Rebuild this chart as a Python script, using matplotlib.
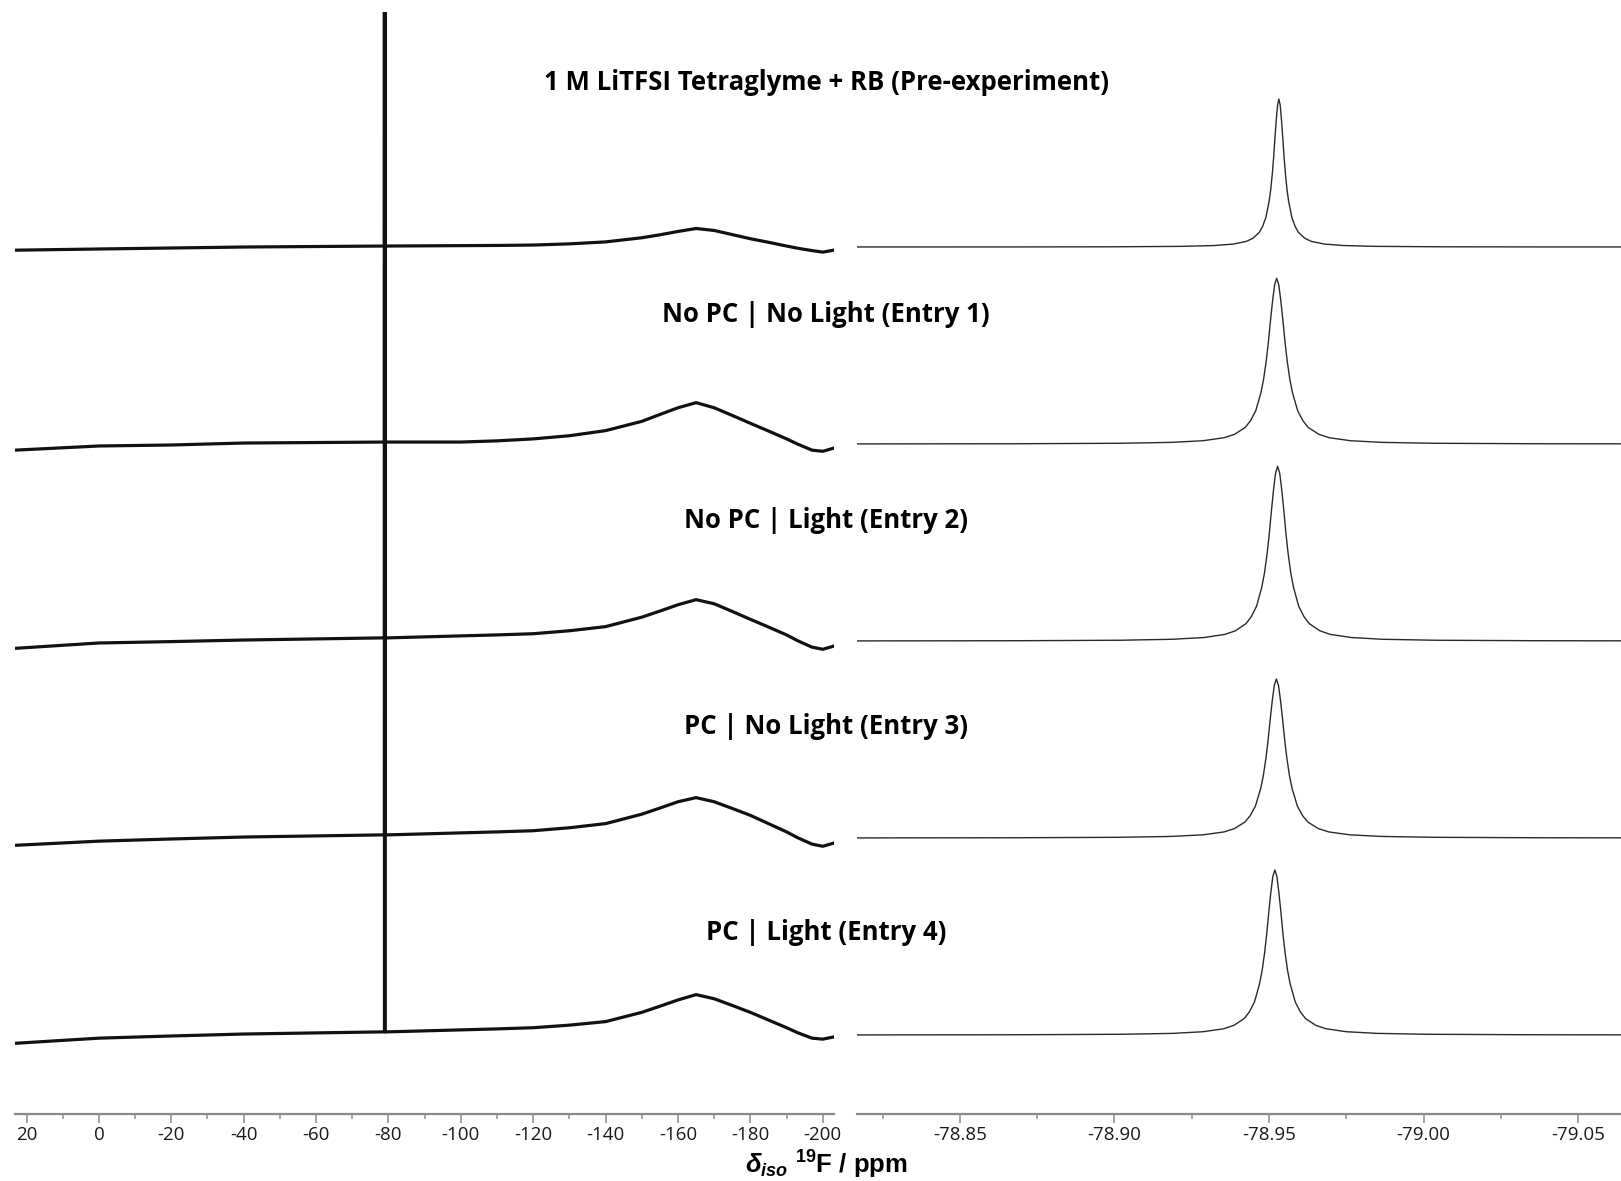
import numpy as np
import matplotlib
matplotlib.use("Agg")
import matplotlib.pyplot as plt
from matplotlib.ticker import MultipleLocator, FormatStrFormatter

plt.rcParams["axes.unicode_minus"] = False
plt.rcParams["mathtext.fontset"] = "custom"
plt.rcParams["mathtext.rm"] = "Liberation Sans:bold"
plt.rcParams["mathtext.bf"] = "Liberation Sans:bold"
plt.rcParams["mathtext.it"] = "Liberation Sans:italic:bold"
plt.rcParams["mathtext.bfit"] = "Liberation Sans:italic:bold"

# ── data ─────────────────────────────────────────────────────────────────
labels = [
    "1 M LiTFSI Tetraglyme + RB (Pre-experiment)",
    "No PC | No Light (Entry 1)",
    "No PC | Light (Entry 2)",
    "PC | No Light (Entry 3)",
    "PC | Light (Entry 4)",
]

# full range spectra (ppm), intensities relative to each trace's baseline
left_ppm = [23, 0, -20, -40, -78.9, -79.0, -79.1, -80, -100, -110, -120, -130,
            -140, -150, -155, -160, -165, -170, -175, -180, -185, -190, -193,
            -197, -200, -203]
left_pre = [-0.016, -0.010, -0.005, 0.000, 0.005, 30.0, 0.005, 0.005, 0.007, 0.008, 0.010, 0.016,
            0.026, 0.047, 0.062, 0.079, 0.094, 0.084, 0.063, 0.042, 0.024, 0.005, -0.006,
            -0.018, -0.026, -0.016]
left_e1 = [-0.031, -0.010, -0.005, 0.005, 0.010, 30.0, 0.010, 0.010, 0.010, 0.016, 0.026, 0.042,
           0.068, 0.115, 0.150, 0.184, 0.210, 0.184, 0.145, 0.105, 0.066, 0.026, 0.000,
           -0.031, -0.037, -0.021]
left_e2 = [-0.037, -0.010, -0.003, 0.005, 0.016, 30.0, 0.016, 0.016, 0.026, 0.031, 0.037, 0.052,
           0.073, 0.121, 0.152, 0.184, 0.210, 0.189, 0.150, 0.110, 0.071, 0.031, 0.002,
           -0.031, -0.042, -0.026]
left_e3 = [-0.037, -0.016, -0.005, 0.005, 0.016, 30.0, 0.016, 0.016, 0.026, 0.031, 0.037, 0.052,
           0.073, 0.121, 0.152, 0.184, 0.205, 0.184, 0.150, 0.115, 0.073, 0.031, 0.002,
           -0.031, -0.042, -0.026]
left_e4 = [-0.042, -0.016, -0.005, 0.005, 0.016, 30.0, 0.016, 0.016, 0.026, 0.031, 0.037, 0.050,
           0.068, 0.115, 0.146, 0.178, 0.205, 0.184, 0.150, 0.115, 0.076, 0.037, 0.012,
           -0.016, -0.021, -0.010]
left_traces = [left_pre, left_e1, left_e2, left_e3, left_e4]

# zoomed CF3 signal
peak_center = [-78.9532, -78.9525, -78.9528, -78.9524, -78.9519]
peak_height = [0.751, 0.841, 0.887, 0.807, 0.838]
peak_hwhm   = [0.0021, 0.0034, 0.0034, 0.0034, 0.0033]

# lineshape: offset in half-widths -> relative height
profile_offset = [0, 0.2, 0.4, 0.6, 0.8, 1.0, 1.25, 1.5, 2, 2.5, 3, 4, 5, 7,
                  10, 15, 25, 40, 80]
profile_height = [1.0, 0.96, 0.86, 0.74, 0.61, 0.50, 0.39, 0.31, 0.20, 0.14,
                  0.10, 0.059, 0.038, 0.020, 0.0099, 0.0044, 0.0016, 0.0006, 0.0002]

offsets = [4, 3, 2, 1, 0]
label_y_px = [83, 315, 521, 727, 932]

# ── figure ───────────────────────────────────────────────────────────────
W, H = 1621, 1181
fig = plt.figure(figsize=(W / 100, H / 100), dpi=100)
ax_l = fig.add_axes([15.3 / W, 1 - 1114 / H, (834 - 15.3) / W, (1114 - 12) / H])
ax_r = fig.add_axes([857 / W, 1 - 1114 / H, (1621 - 857) / W, (1114 - 12) / H])

ylim = (-0.401, 5.193)
po = np.array(profile_offset)
ph = np.array(profile_height)

for off, tr in zip(offsets, left_traces):
    ax_l.plot(left_ppm, np.array(tr) + off, color="#111111", lw=2.3)

for off, c, h, w in zip(offsets, peak_center, peak_height, peak_hwhm):
    x = np.concatenate([c + po[::-1] * w, c - po[1:] * w])
    y = np.concatenate([ph[::-1], ph[1:]]) * h + off
    ax_r.plot(x, y, color="#2a2a2a", lw=1.0)

ax_l.set_xlim(23.1, -203.1)
ax_r.set_xlim(-78.8167, -79.0639)
ax_l.xaxis.set_major_locator(MultipleLocator(20))
ax_l.xaxis.set_minor_locator(MultipleLocator(10))
ax_r.xaxis.set_major_locator(MultipleLocator(0.05))
ax_r.xaxis.set_minor_locator(MultipleLocator(0.025))
ax_r.xaxis.set_major_formatter(FormatStrFormatter("%.2f"))

for ax in (ax_l, ax_r):
    ax.set_ylim(*ylim)
    ax.set_yticks([])
    for s in ("top", "left", "right"):
        ax.spines[s].set_visible(False)
    ax.spines["bottom"].set_color("#8a8a8a")
    ax.spines["bottom"].set_linewidth(1.6)
    ax.tick_params(axis="x", which="major", length=6.5, width=1.1,
                   color="#8a8a8a", pad=2.5)
    ax.tick_params(axis="x", which="minor", length=3.4, width=1.1,
                   color="#8a8a8a")
    for t in ax.get_xticklabels():
        t.set_fontfamily(["Open Sans", "DejaVu Sans"])
        t.set_fontsize(13.5)
        t.set_color("#1a1a1a")
    ax.patch.set_visible(False)

for lab, ypx in zip(labels, label_y_px):
    fig.text(826 / W, 1 - ypx / H, lab, ha="center", va="center",
             fontsize=18.5, fontweight="bold", family=["Open Sans", "DejaVu Sans"])

fig.text(826 / W, 1 - 1165 / H, r"$\mathbfit{\delta}_{\mathbfit{iso}}$ $^{\mathbf{19}}$F / ppm",
         ha="center", va="center", fontsize=18.5, fontweight="bold",
         family=["Liberation Sans", "DejaVu Sans"])

fig.savefig("out.png", dpi=100)
